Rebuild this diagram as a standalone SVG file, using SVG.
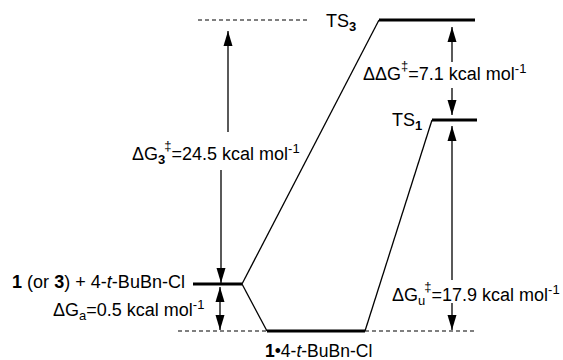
<svg xmlns="http://www.w3.org/2000/svg" width="563" height="360" viewBox="0 0 563 360">
<style>
text{font-family:"Liberation Sans",Arial,sans-serif;font-size:18px;fill:#000}
.sub{font-size:13px}
.b{font-weight:bold}
.lvl{stroke:#000;stroke-width:3;fill:none}
.ln{stroke:#000;stroke-width:1.3;fill:none}
.dash{stroke:#000;stroke-width:1.2;stroke-dasharray:4 3;fill:none}
.arr{stroke:#000;stroke-width:1.3;fill:none}
</style>
<defs>
<marker id="ah2" viewBox="0 0 15 10" refX="15" refY="5" markerWidth="15" markerHeight="10" markerUnits="userSpaceOnUse" orient="auto">
<path d="M0,0.5 L15,5 L0,9.5 Z" fill="#000"/>
</marker>
</defs>
<g id="connectors">
<line class="dash" x1="198" y1="20" x2="310" y2="20"/>
<line class="dash" x1="178" y1="331" x2="267" y2="331"/>
<line class="dash" x1="365" y1="331" x2="477" y2="331"/>
<line class="ln" x1="379" y1="20" x2="242" y2="284"/>
<line class="ln" x1="242" y1="284" x2="267" y2="331"/>
<line class="ln" x1="365" y1="331" x2="432" y2="120"/>
<line class="arr" x1="228" y1="132" x2="228" y2="31" marker-end="url(#ah2)"/>
<line class="arr" x1="221" y1="170" x2="221" y2="283" marker-end="url(#ah2)"/>
<line class="arr" x1="452" y1="62" x2="452" y2="27" marker-end="url(#ah2)"/>
<line class="arr" x1="452" y1="88" x2="452" y2="115" marker-end="url(#ah2)"/>
<line class="arr" x1="452" y1="280" x2="452" y2="126" marker-end="url(#ah2)"/>
<line class="arr" x1="452" y1="303" x2="452" y2="330" marker-end="url(#ah2)"/>
<line class="arr" x1="220" y1="309" x2="220" y2="287" marker-end="url(#ah2)"/>
<line class="arr" x1="220" y1="309" x2="220" y2="330" marker-end="url(#ah2)"/>
</g>
<g id="ts3">
<line class="lvl" x1="379" y1="20" x2="475" y2="20"/>
<text x="326" y="27">TS<tspan class="sub b" dy="4">3</tspan></text>
</g>
<g id="ts1">
<line class="lvl" x1="432" y1="120" x2="477" y2="120"/>
<text x="392" y="126">TS<tspan class="sub b" dy="4">1</tspan></text>
</g>
<g id="reactants">
<line class="lvl" x1="193" y1="284" x2="242" y2="284"/>
<text x="12" y="288" textLength="173" lengthAdjust="spacing"><tspan class="b">1</tspan> (or <tspan class="b">3</tspan>) + 4-<tspan font-style="italic">t</tspan>-BuBn-Cl</text>
</g>
<g id="complex">
<line class="lvl" x1="267" y1="331" x2="365" y2="331"/>
<text x="265" y="357" style="font-size:17.5px"><tspan class="b">1</tspan>•4-<tspan font-style="italic">t</tspan>-BuBn-Cl</text>
</g>
<g id="labels">
<text x="132" y="160">ΔG<tspan class="sub b" dy="4">3</tspan><tspan class="sub" dx="-1" dy="-14">‡</tspan><tspan dy="10">=24.5 kcal mol</tspan><tspan class="sub" dy="-7">-1</tspan></text>
<text x="363" y="80">ΔΔG<tspan class="sub" dy="-10">‡</tspan><tspan dy="10">=7.1 kcal mol</tspan><tspan class="sub" dy="-7">-1</tspan></text>
<text x="392" y="301">ΔG<tspan class="sub" dy="4">u</tspan><tspan class="sub" dx="-1" dy="-14">‡</tspan><tspan dy="10">=17.9 kcal mol</tspan><tspan class="sub" dy="-7">-1</tspan></text>
<text x="53" y="316">ΔG<tspan class="sub" dy="4">a</tspan><tspan dy="-4">=0.5 kcal mol</tspan><tspan class="sub" dy="-7">-1</tspan></text>
</g>
</svg>
